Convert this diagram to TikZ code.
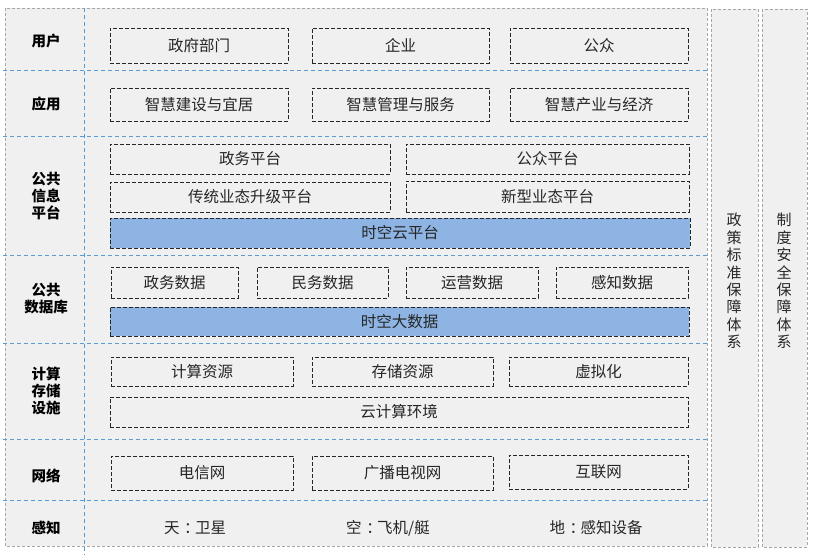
\documentclass[tikz,border=0pt]{standalone}
\usepackage{fontspec}
\setmainfont{Noto Sans CJK SC}
\definecolor{bgfill}{HTML}{F0F0F0}
\definecolor{outerline}{HTML}{A6A6A6}
\definecolor{sepblue}{HTML}{5B9BD5}
\definecolor{boxfill}{HTML}{8EB4E3}
\definecolor{txt}{HTML}{262626}
\tikzset{
  outerrect/.style={draw=outerline, fill=bgfill, line width=0.8pt, dash pattern=on 3pt off 2pt},
  sepline/.style={draw=sepblue, line width=0.9pt, dash pattern=on 4pt off 3pt},
  bx/.style={draw=black!85, line width=0.9pt, dash pattern=on 4pt off 2pt, inner sep=0pt,
     text=txt, font=\fontsize{15.5}{18}\selectfont},
  bluebx/.style={bx, fill=boxfill},
  lbl/.style={font=\bfseries\fontsize{14.5}{17}\selectfont, align=center, text=black, inner sep=0pt},
  sense/.style={font=\fontsize{15.5}{18}\selectfont, text=txt, inner sep=0pt},
  vtxt/.style={font=\fontsize{15}{17.4}\selectfont, align=center, text=txt, inner sep=0pt}
}
\newcommand\mybox[7][bx]{%
  \node[#1, minimum width={#5pt-#3pt}, minimum height={#6pt-#4pt}] (#2) at ({(#3+#5)/2},{(#4+#6)/2}) {#7};}
\newcommand\cc{\makebox[1em][l]{\hspace{0.3em}：}}
\begin{document}
\begin{tikzpicture}[x=1pt,y=-1pt]
\useasboundingbox (0,0) rectangle (814,555);
% panels
\draw[outerrect] (5,8) rectangle (707,546);
\draw[outerrect] (711,9) rectangle (758,547);
\draw[outerrect] (762,9) rectangle (807,547);
% separators
\foreach \yy in {70,136,255,343,439,500}{
  \draw[sepline] (3,\yy) -- (707,\yy);
}
\draw[sepline] (84,8) -- (84,555);
% left labels
\node[lbl] (l1) at (46,41) {用户};
\node[lbl] (l2) at (46,104) {应用};
\node[lbl] (l3) at (46,196) {公共\\信息\\平台};
\node[lbl] (l4) at (46,299) {公共\\数据库};
\node[lbl] (l5) at (46,391) {计算\\存储\\设施};
\node[lbl] (l6) at (46,476) {网络};
\node[lbl] (l7) at (46,528) {感知};
% row 1
\mybox{a1}{110}{28}{288}{63}{政府部门}
\mybox{a2}{312}{28}{489}{63}{企业}
\mybox{a3}{510}{28}{688}{63}{公众}
% row 2
\mybox{b1}{110}{88}{288}{121}{智慧建设与宜居}
\mybox{b2}{312}{88}{489}{121}{智慧管理与服务}
\mybox{b3}{510}{88}{688}{121}{智慧产业与经济}
% row 3
\mybox{c1}{110}{144}{390}{174}{政务平台}
\mybox{c2}{406}{144}{689}{174}{公众平台}
\mybox{c3}{110}{182}{390}{212}{传统业态升级平台}
\mybox{c4}{406}{181}{689}{212}{新型业态平台}
\mybox[bluebx]{c5}{110}{218}{690}{248}{时空云平台}
% row 4
\mybox{d1}{111}{267}{238}{298}{政务数据}
\mybox{d2}{257}{267}{388}{298}{民务数据}
\mybox{d3}{406}{267}{538}{298}{运营数据}
\mybox{d4}{556}{267}{688}{298}{感知数据}
\mybox[bluebx]{d5}{110}{307}{689}{336}{时空大数据}
% row 5
\mybox{e1}{111}{357}{293}{386}{计算资源}
\mybox{e2}{312}{357}{493}{386}{存储资源}
\mybox{e3}{509}{357}{688}{386}{虚拟化}
\mybox{e4}{110}{397}{688}{427}{云计算环境}
% row 6
\mybox{f1}{111}{456}{293}{490}{电信网}
\mybox{f2}{312}{456}{493}{490}{广播电视网}
\mybox{f3}{509}{455}{688}{489}{互联网}
% row 7
\node[sense] (g1) at (195,528) {天\cc 卫星};
\node[sense] (g2) at (388,528) {空\cc 飞机/艇};
\node[sense] (g3) at (596,528) {地\cc 感知设备};
% right panels
\node[vtxt] (v1) at (734,281) {政\\策\\标\\准\\保\\障\\体\\系};
\node[vtxt] (v2) at (784,281) {制\\度\\安\\全\\保\\障\\体\\系};
\end{tikzpicture}
\end{document}
